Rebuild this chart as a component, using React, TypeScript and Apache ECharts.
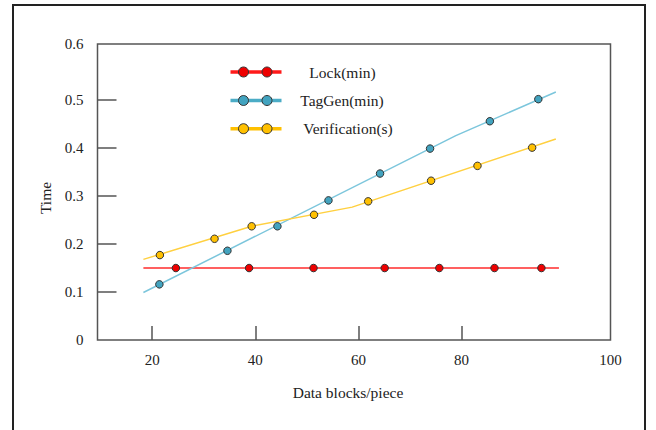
import React, { useEffect, useRef } from "react";
import * as echarts from "echarts";

// ---- data ----
const seriesNames = ["Lock(min)", "TagGen(min)", "Verification(s)"];

// marker points
const lockX = [24.6, 38.8, 51.3, 65.1, 75.7, 86.4, 95.5];
const lockY = [0.15, 0.15, 0.15, 0.15, 0.15, 0.15, 0.15];
const tagGenX = [21.4, 34.6, 44.3, 54.2, 64.2, 73.9, 85.5, 94.9];
const tagGenY = [0.116, 0.186, 0.237, 0.291, 0.347, 0.399, 0.456, 0.502];
const verifX = [21.5, 32.1, 39.3, 51.4, 61.9, 74.1, 83.1, 93.7];
const verifY = [0.177, 0.211, 0.237, 0.261, 0.289, 0.332, 0.363, 0.401];

// drawn trend lines
const lockLineX = [18.3, 98.9];
const lockLineY = [0.15, 0.15];
const tagGenLineX = [18.3, 78.9, 98.3];
const tagGenLineY = [0.099, 0.426, 0.517];
const verifLineX = [18.3, 39.3, 58.8, 98.3];
const verifLineY = [0.168, 0.237, 0.277, 0.419];

// axes
const xTicks = [20, 40, 60, 80];
const xEndLabel = "100";
const yTicks = [0, 0.1, 0.2, 0.3, 0.4, 0.5];
const yEndLabel = "0.6";
const X_MIN = 9.4;
const X_MAX = 108.9;
const Y_MAX = 0.617;

const zip = (xs: number[], ys: number[]) => xs.map((x, i) => [x, ys[i]]);

const FONT = "'Liberation Serif', 'Times New Roman', serif";
const lineColors = ["#ff2b2b", "#7cc6dc", "#ffd040"];
const markerColors = ["#ee0000", "#42a3bf", "#ffc000"];
const legendLineColors = ["#ff1a1a", "#4bacc6", "#ffc000"];

export default function App() {
  const ref = useRef<HTMLDivElement>(null);
  useEffect(() => {
    if (!ref.current) return;
    const chart = echarts.init(ref.current, undefined, { renderer: "svg" });

    const lines = [zip(lockLineX, lockLineY), zip(tagGenLineX, tagGenLineY), zip(verifLineX, verifLineY)];
    const pts = [zip(lockX, lockY), zip(tagGenX, tagGenY), zip(verifX, verifY)];

    const series: any[] = [];
    lines.forEach((d, i) => {
      series.push({
        name: seriesNames[i],
        type: "line",
        data: d,
        showSymbol: false,
        silent: true,
        lineStyle: { color: lineColors[i], width: 1.5 },
        z: 2,
      });
    });
    pts.forEach((d, i) => {
      series.push({
        name: seriesNames[i] + " pts",
        type: "scatter",
        data: d,
        symbol: "circle",
        symbolSize: 7.5,
        itemStyle: { color: markerColors[i], borderColor: "#333", borderWidth: 1, opacity: 1 },
        z: 3,
      });
    });

    const legendRows = [72, 100.5, 128.7];
    const legendTextCx = [342.5, 342, 348];
    const legendGraphics: any[] = [];
    seriesNames.forEach((n, i) => {
      const y = legendRows[i];
      legendGraphics.push({
        type: "line",
        shape: { x1: 230.5, y1: y, x2: 281.5, y2: y },
        style: { stroke: legendLineColors[i], lineWidth: 3.5 },
      });
      [243.5, 267].forEach((cx) =>
        legendGraphics.push({
          type: "circle",
          shape: { cx, cy: y, r: 5 },
          style: { fill: markerColors[i], stroke: "#333", lineWidth: 1 },
        })
      );
      legendGraphics.push({
        type: "text",
        x: legendTextCx[i],
        y: y,
        style: {
          text: n,
          fill: "#222",
          font: `15.5px ${FONT}`,
          textAlign: "center",
          textVerticalAlign: "middle",
        },
      });
    });

    chart.setOption({
      animation: false,
      backgroundColor: "#fff",
      textStyle: { fontFamily: FONT },
      grid: {
        left: 97.5,
        top: 44,
        right: 45.5,
        bottom: 90,
        show: true,
        borderColor: "#555",
        borderWidth: 1.5,
        backgroundColor: "transparent",
      },
      xAxis: {
        type: "value",
        min: X_MIN,
        max: X_MAX,
        name: "Data blocks/piece",
        nameLocation: "middle",
        nameGap: 44,
        nameTextStyle: { fontSize: 15.5, color: "#222", fontFamily: FONT, padding: [0, 12, 0, 0] },
        axisLine: { show: false },
        splitLine: { show: false },
        axisTick: {
          show: true,
          inside: true,
          length: 14,
          customValues: xTicks,
          lineStyle: { color: "#555", width: 1.5 },
        },
        axisLabel: {
          customValues: [...xTicks, X_MAX],
          formatter: (v: number) => (Math.abs(v - X_MAX) < 1e-6 ? xEndLabel : String(v)),
          fontSize: 15,
          color: "#222",
          fontFamily: FONT,
          margin: 12,
        },
      },
      yAxis: {
        type: "value",
        min: 0,
        max: Y_MAX,
        name: "Time",
        nameLocation: "middle",
        nameGap: 39,
        nameTextStyle: { fontSize: 15.5, color: "#222", fontFamily: FONT, padding: [0, 12, 0, 0] },
        axisLine: { show: false },
        splitLine: { show: false },
        axisTick: {
          show: true,
          inside: true,
          length: 19,
          customValues: yTicks.slice(1),
          lineStyle: { color: "#555", width: 1.5 },
        },
        axisLabel: {
          customValues: [...yTicks, Y_MAX],
          formatter: (v: number) => (Math.abs(v - Y_MAX) < 1e-6 ? yEndLabel : String(v)),
          fontSize: 15,
          color: "#222",
          fontFamily: FONT,
          margin: 14,
        },
      },
      graphic: [
        {
          type: "rect",
          shape: { x: 13, y: 5, width: 632, height: 440 },
          style: { fill: "none", stroke: "#222", lineWidth: 2 },
          silent: true,
          z: 0,
        },
        ...legendGraphics,
      ],
      series,
    });
    return () => chart.dispose();
  }, []);
  return (
    <div
      ref={ref}
      style={{ position: "fixed", left: 0, top: 0, width: 656, height: 430 }}
    />
  );
}
